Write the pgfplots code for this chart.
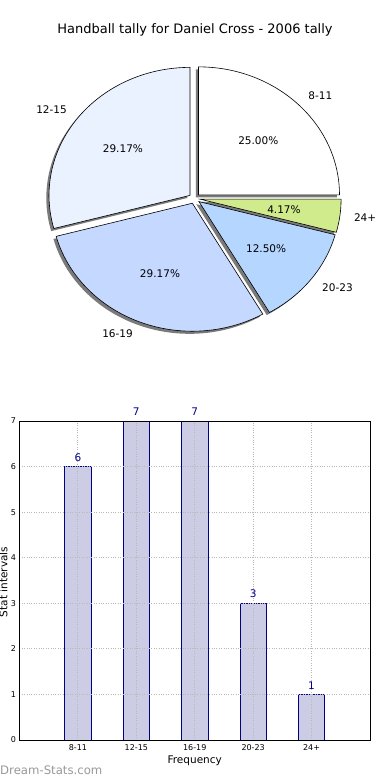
\documentclass[border=0pt]{standalone}
\usepackage{pgfplots}
\pgfplotsset{compat=1.18}
\usepackage{fontspec}
\setmainfont{DejaVu Sans}
\definecolor{cA}{HTML}{FFFFFF}
\definecolor{cB}{HTML}{EBF2FF}
\definecolor{cC}{HTML}{C5D8FF}
\definecolor{cD}{HTML}{B4D6FF}
\definecolor{cE}{HTML}{CFEB8B}
\definecolor{barfill}{HTML}{CCCCE5}
\definecolor{baredge}{HTML}{00008B}
\definecolor{valblue}{HTML}{00008B}
\definecolor{shadowc}{HTML}{7A7A7A}
\newcommand\total{24}
\newcommand\rx{141}
\newcommand\ry{128}
\newcommand\setangles[2]{%
  \pgfmathsetmacro\aS{360*#1/\total}%
  \pgfmathsetmacro\aE{360*(#1+#2)/\total}%
  \pgfmathsetmacro\aM{(\aS+\aE)/2}%
  \pgfmathsetmacro\cx{194.5+0.04*\rx*cos(\aM)}%
  \pgfmathsetmacro\cy{581.5+0.04*\ry*sin(\aM)}%
}
\newcommand\sliceshadow[2]{%
  \setangles{#1}{#2}%
  \pgfmathsetmacro\sx{\cx-2.7}%
  \pgfmathsetmacro\sy{\cy-2.6}%
  \fill[shadowc] (axis cs:\sx,\sy) -- ++(\aS:\rx pt and \ry pt)
    arc[start angle=\aS, end angle=\aE, x radius=\rx pt, y radius=\ry pt] -- cycle;
}
\newcommand\slice[6]{%
  \setangles{#1}{#2}%
  \filldraw[fill=#3, draw=black, line width=0.6pt, line join=miter] (axis cs:\cx,\cy) -- ++(\aS:\rx pt and \ry pt)
    arc[start angle=\aS, end angle=\aE, x radius=\rx pt, y radius=\ry pt] -- cycle;
  \pgfmathsetmacro\lx{\cx+1.1*\rx*cos(\aM)}%
  \pgfmathsetmacro\ly{\cy+1.1*\ry*sin(\aM)}%
  \pgfmathsetmacro\px{\cx+0.6*\rx*cos(\aM)}%
  \pgfmathsetmacro\py{\cy+0.6*\ry*sin(\aM)}%
  \node[anchor=#6, inner sep=0pt, font=\fontsize{10.5}{12}\selectfont] at (axis cs:\lx,\ly) {#4};
  \node[inner sep=0pt, font=\fontsize{10.5}{12}\selectfont] at (axis cs:\px,\py) {#5};
}
\begin{document}
\begin{tikzpicture}
\path[use as bounding box] (0pt,0pt) rectangle (390pt,780pt);
\fill[white] (0pt,0pt) rectangle (390pt,780pt);
% pie chart in a hidden axis whose units are pixels
\begin{axis}[at={(0pt,0pt)}, anchor=south west, scale only axis,
  width=390pt, height=780pt, xmin=0, xmax=390, ymin=0, ymax=780,
  hide axis, clip=false]
\pgfplotsextra{%
  \sliceshadow{0}{6}
  \sliceshadow{6}{7}
  \sliceshadow{13}{7}
  \sliceshadow{20}{3}
  \sliceshadow{23}{1}
  \slice{0}{6}{cA}{8-11}{25.00\%}{west}
  \slice{6}{7}{cB}{12-15}{29.17\%}{east}
  \slice{13}{7}{cC}{16-19}{29.17\%}{east}
  \slice{20}{3}{cD}{20-23}{12.50\%}{west}
  \slice{23}{1}{cE}{24+}{4.17\%}{west}
}
\end{axis}
\node[font=\fontsize{13}{15}\selectfont] at (195pt,750pt) {Handball tally for Daniel Cross - 2006 tally};
% bar chart
\begin{axis}[at={(19.5pt,40pt)}, anchor=south west, scale only axis,
  width=350.5pt, height=319pt,
  xmin=-1, xmax=5, ymin=0, ymax=7,
  xtick={0,1,2,3,4}, xticklabels={8-11,12-15,16-19,20-23,24+},
  ytick={0,1,2,3,4,5,6,7},
  grid=major, major grid style={dotted, black!28, line width=0.9pt},
  axis on top, major tick length=0pt,
  axis line style={black, line width=0.8pt},
  ticklabel style={font=\fontsize{8}{9}\selectfont},
  /pgf/number format/assume math mode=true,
  xticklabel style={yshift=-1pt},
  yticklabel style={xshift=0pt},
  xlabel={Frequency},
  xlabel style={font=\fontsize{10.5}{12}\selectfont, at={(axis description cs:0.5,0)}, anchor=center, yshift=-20.5pt},
  clip=false]
\addplot[ybar, bar width=0.45, fill=barfill, draw=baredge, line width=0.7pt,
  nodes near coords,
  every node near coord/.append style={text=valblue, font=\fontsize{10.5}{12}\selectfont, inner sep=0pt, anchor=south, yshift=5pt}]
  coordinates {(0,6) (1,7) (2,7) (3,3) (4,1)};
\end{axis}
\node[rotate=90, font=\fontsize{10.5}{12}\selectfont] at (3.5pt,198pt) {Stat intervals};
\node[anchor=west, inner sep=0pt, text=black!40, font=\fontsize{11.7}{13}\selectfont] at (0pt,10pt) {Dream-Stats.com};
\end{tikzpicture}
\end{document}
